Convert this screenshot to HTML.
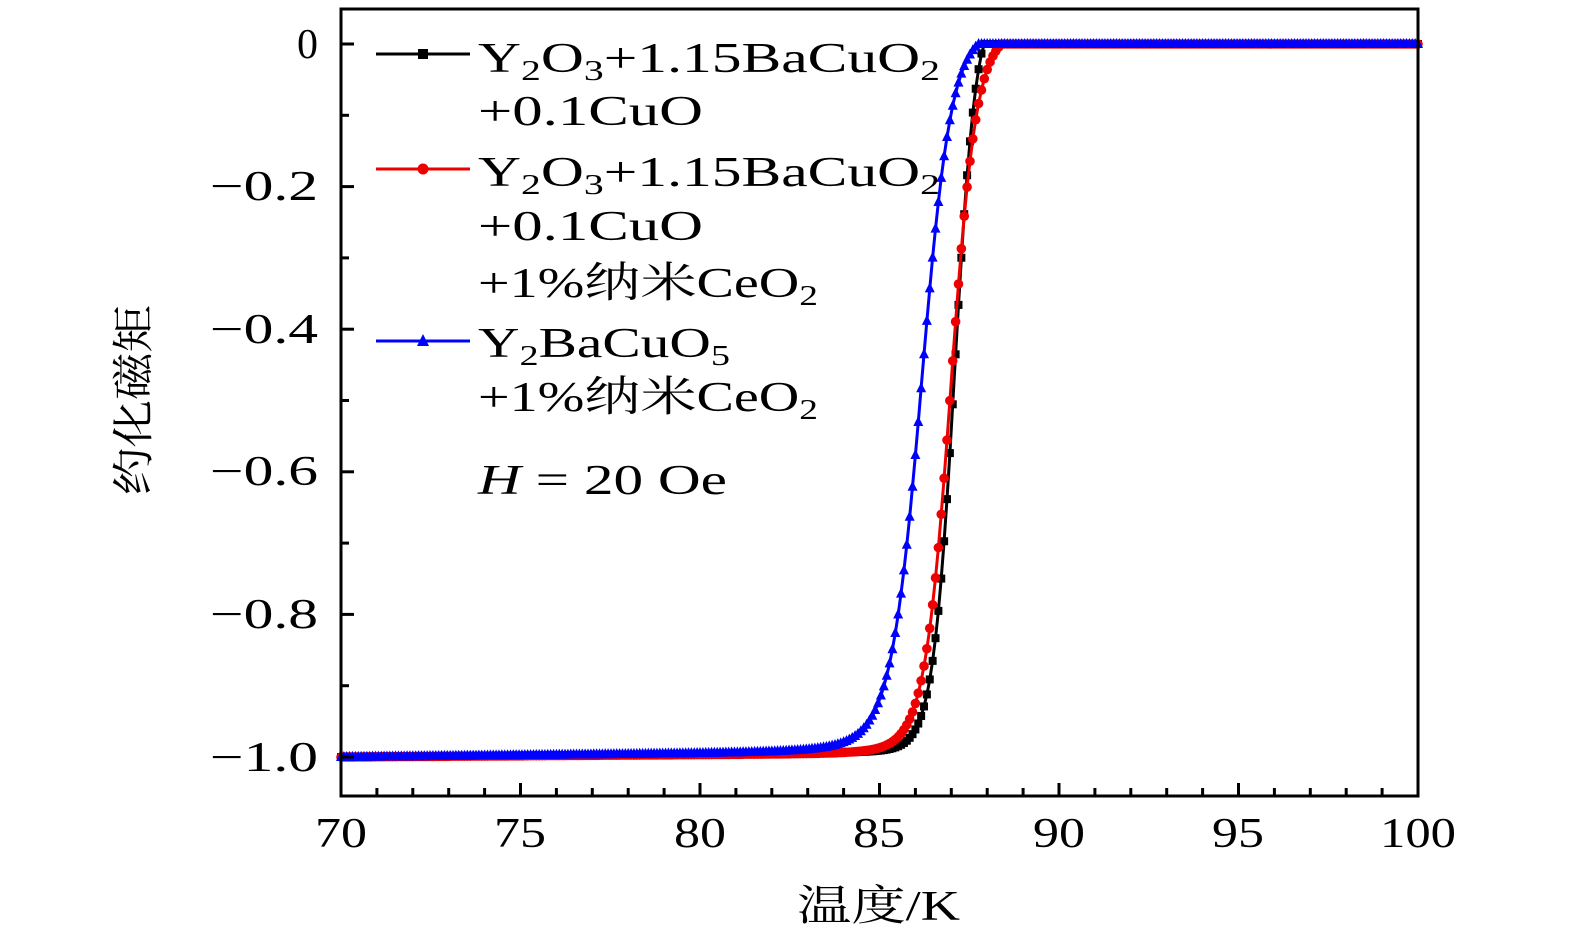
<!DOCTYPE html>
<html><head><meta charset="utf-8"><style>
html,body{margin:0;padding:0;background:#fff;overflow:hidden;width:1575px;height:945px;}
svg{display:block;}
text{font-family:"Liberation Serif","Noto Serif CJK SC",serif;fill:#000;}
</style></head><body>
<svg id="s" width="1575" height="945" viewBox="0 0 1575 945" xmlns="http://www.w3.org/2000/svg">
<g id="data"></g>
<rect x="341" y="9" width="1077" height="787" fill="none" stroke="#000" stroke-width="3"/>
<g id="ticks" stroke="#000" stroke-width="3"></g>
<g font-size="42">
<text x="318" y="58" text-anchor="end">0</text>
<text x="210" y="200" textLength="108" lengthAdjust="spacingAndGlyphs">−0.2</text>
<text x="210" y="343" textLength="108" lengthAdjust="spacingAndGlyphs">−0.4</text>
<text x="210" y="485" textLength="108" lengthAdjust="spacingAndGlyphs">−0.6</text>
<text x="210" y="628" textLength="108" lengthAdjust="spacingAndGlyphs">−0.8</text>
<text x="210" y="771" textLength="108" lengthAdjust="spacingAndGlyphs">−1.0</text>
<text x="315" y="847" textLength="52" lengthAdjust="spacingAndGlyphs">70</text>
<text x="494" y="847" textLength="52" lengthAdjust="spacingAndGlyphs">75</text>
<text x="674" y="847" textLength="52" lengthAdjust="spacingAndGlyphs">80</text>
<text x="853" y="847" textLength="52" lengthAdjust="spacingAndGlyphs">85</text>
<text x="1033" y="847" textLength="52" lengthAdjust="spacingAndGlyphs">90</text>
<text x="1212" y="847" textLength="52" lengthAdjust="spacingAndGlyphs">95</text>
<text x="1380" y="847" textLength="76" lengthAdjust="spacingAndGlyphs">100</text>
<text x="797" y="920" textLength="163" lengthAdjust="spacingAndGlyphs">温度/K</text>
<text transform="translate(148,495) rotate(-90)" textLength="190" lengthAdjust="spacingAndGlyphs">约化磁矩</text>
<text x="478" y="72" textLength="462" lengthAdjust="spacingAndGlyphs">Y<tspan font-size="28" dy="8">2</tspan><tspan dy="-8">O</tspan><tspan font-size="28" dy="8">3</tspan><tspan dy="-8">+1.15BaCuO</tspan><tspan font-size="28" dy="8">2</tspan></text>
<text x="478" y="125" textLength="225" lengthAdjust="spacingAndGlyphs">+0.1CuO</text>
<text x="478" y="186" textLength="462" lengthAdjust="spacingAndGlyphs">Y<tspan font-size="28" dy="8">2</tspan><tspan dy="-8">O</tspan><tspan font-size="28" dy="8">3</tspan><tspan dy="-8">+1.15BaCuO</tspan><tspan font-size="28" dy="8">2</tspan></text>
<text x="478" y="240" textLength="225" lengthAdjust="spacingAndGlyphs">+0.1CuO</text>
<text x="478" y="297" textLength="340" lengthAdjust="spacingAndGlyphs">+1%纳米CeO<tspan font-size="28" dy="8">2</tspan></text>
<text x="478" y="357" textLength="252" lengthAdjust="spacingAndGlyphs">Y<tspan font-size="28" dy="8">2</tspan><tspan dy="-8">BaCuO</tspan><tspan font-size="28" dy="8">5</tspan></text>
<text x="478" y="411" textLength="340" lengthAdjust="spacingAndGlyphs">+1%纳米CeO<tspan font-size="28" dy="8">2</tspan></text>
<text x="478" y="494" textLength="249" lengthAdjust="spacingAndGlyphs"><tspan font-style="italic">H</tspan> = 20 Oe</text>
</g>
<line x1="376" y1="54" x2="470" y2="54" stroke="#000" stroke-width="3"/>
<rect x="418" y="49" width="10" height="10" fill="#000"/>
<line x1="376" y1="169" x2="470" y2="169" stroke="#e00" stroke-width="3"/>
<circle cx="423" cy="169" r="5.5" fill="#e00"/>
<line x1="376" y1="341" x2="470" y2="341" stroke="#00f" stroke-width="3"/>
<polygon points="423,334 429,346 417,346" fill="#00f"/>
</svg>
<script>
var NS="http://www.w3.org/2000/svg";
function X(t){return 341+(t-70)*1077/30;}
function Y(v){return 44-v*713;}
var tk=document.getElementById('ticks');
function ln(a,b,c,d){var l=document.createElementNS(NS,'line');l.setAttribute('x1',a);l.setAttribute('y1',b);l.setAttribute('x2',c);l.setAttribute('y2',d);tk.appendChild(l);}
for(var t=70;t<=100;t++){var L=(t%5==0)?13:8;ln(X(t),796,X(t),796-L);}
for(var i=0;i<=10;i++){var v=-i/10;var L=(i%2==0)?13:8;ln(341,Y(v),341+L,Y(v));}
function mk(Tc,w,Te,tailA,tailW,base){
 return function(T){
  var s=function(t){return 1/(1+Math.exp((t-Tc)/w));};
  var se=s(Te);
  var v=(s(T)-se)/(s(60)-se);
  if(v<0||T>=Te)v=0;
  var b=-1+base*(T-70)/15+tailA*Math.exp((T-Tc)/tailW);
  if(b>0)b=0;
  return b*v;
 };
}
var series=[
 {f:mk(87.1,0.3,87.9,0.02,0.9,0.006),c:"#000",m:"s"},
 {f:mk(87.0,0.36,88.4,0.03,1.0,0.005),c:"#e00",m:"c"},
 {f:mk(86.2,0.42,87.75,0.05,1.2,0.008),c:"#00f",m:"t"}
];
var g=document.getElementById('data');
series.forEach(function(s){
 var pts=[],mks="";
 for(var T=70;T<=100.001;T+=0.08){
  var x=X(T),y=Y(s.f(T));pts.push(x.toFixed(1)+","+y.toFixed(1));
  if(s.m=="s")mks+='<rect x="'+(x-4)+'" y="'+(y-4)+'" width="8" height="8" fill="'+s.c+'"/>';
  else if(s.m=="c")mks+='<circle cx="'+x+'" cy="'+y+'" r="4.8" fill="'+s.c+'"/>';
  else mks+='<polygon points="'+x+','+(y-6)+' '+(x+5)+','+(y+4)+' '+(x-5)+','+(y+4)+'" fill="'+s.c+'"/>';
 }
 g.insertAdjacentHTML('beforeend','<polyline points="'+pts.join(' ')+'" fill="none" stroke="'+s.c+'" stroke-width="3"/>'+mks);
});
</script>
</body></html>
